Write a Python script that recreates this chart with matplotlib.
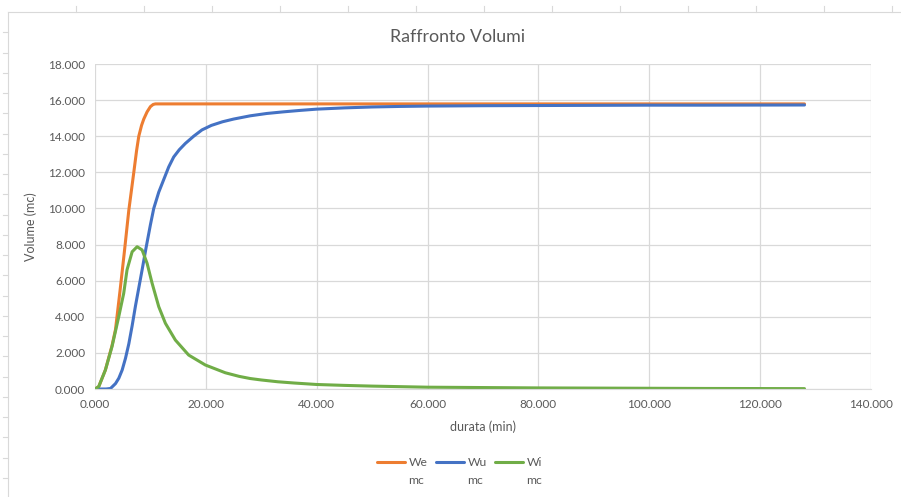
import matplotlib
matplotlib.use("Agg")
import matplotlib.pyplot as plt
from matplotlib.lines import Line2D
from matplotlib.ticker import FuncFormatter, MultipleLocator

plt.rcParams['font.family'] = ['Lato', 'DejaVu Sans']

# ---- data (durata in min, volumes in mc) ----
we_x = [0, 0.67, 1.87, 3.07, 3.7, 4.5, 5.3, 6.1, 7.0, 7.5, 7.9, 8.4, 8.8, 9.4,
        10.0, 10.5, 10.9, 128]
we_y = [0, 0.13, 1.05, 2.4, 3.3, 5.4, 7.6, 9.9, 12.0, 13.2, 14.0, 14.6, 14.95,
        15.35, 15.64, 15.76, 15.79, 15.79]

wu_x = [0, 2.0, 2.8, 3.7, 4.3, 4.9, 5.5, 6.1, 6.7, 7.3, 7.9, 8.5, 9.2, 10.0, 10.6,
        11.5, 12.4, 13.3, 14.2, 15.2, 16.3, 17.8, 19.3, 21, 23, 25, 28, 31, 34,
        37, 40, 45, 50, 55, 60, 70, 80, 90, 100, 110, 128]
wu_y = [0, 0, 0.03, 0.3, 0.6, 1.05, 1.7, 2.5, 3.5, 4.6, 5.6, 6.6, 7.8, 9.1, 10.0,
        10.9, 11.6, 12.3, 12.85, 13.25, 13.6, 14.0, 14.35, 14.6, 14.8, 14.95,
        15.13, 15.26, 15.35, 15.43, 15.5, 15.57, 15.62, 15.65, 15.67, 15.69,
        15.7, 15.71, 15.72, 15.72, 15.73]

wi_x = [0, 0.67, 1.87, 3.07, 4.28, 5.18, 5.78, 6.7, 7.6, 8.5, 9.4, 10.3, 11.5,
        12.7, 14.5, 16.9, 19.9, 23.5, 26, 28, 30, 33, 36, 40, 45, 50, 55, 60,
        70, 80, 90, 100, 110, 120, 128]
wi_y = [0, 0.13, 1.05, 2.35, 4.0, 5.3, 6.6, 7.6, 7.88, 7.7, 6.96, 5.86, 4.56,
        3.64, 2.71, 1.88, 1.33, 0.9, 0.7, 0.58, 0.5, 0.4, 0.33, 0.25, 0.2, 0.16,
        0.13, 0.1, 0.08, 0.06, 0.05, 0.04, 0.03, 0.025, 0.02]

names = ["We", "Wu", "Wi"]
units = ["mc", "mc", "mc"]
colors = ["#ED7D31", "#4472C4", "#70AD47"]

title = "Raffronto Volumi"
xlabel = "durata (min)"
ylabel = "Volume (mc)"

txt_c = "#595959"
W, H = 901, 497
fig = plt.figure(figsize=(W / 100, H / 100), dpi=100)
fig.patch.set_facecolor("white")

ax = fig.add_axes([95 / W, 1 - 389 / H, (871 - 95) / W, (389 - 64) / H])
ax.set_facecolor("white")

series = [(we_x, we_y), (wu_x, wu_y), (wi_x, wi_y)]
handles = []
for (sx, sy), lab, c in zip(series, names, colors):
    h, = ax.plot(sx, sy, color=c, lw=2.2, label=lab, solid_joinstyle="round",
                 solid_capstyle="round")
    handles.append(h)

ax.set_xlim(0, 140)
ax.set_ylim(0, 18)
ax.xaxis.set_major_locator(MultipleLocator(20))
ax.yaxis.set_major_locator(MultipleLocator(2))
fmt = FuncFormatter(lambda v, p: f"{v:.3f}")
ax.xaxis.set_major_formatter(fmt)
ax.yaxis.set_major_formatter(fmt)

grid_c = "#d9d9d9"
ax.grid(True, color=grid_c, lw=0.9)
ax.set_axisbelow(True)
for s in ["top", "right", "left"]:
    ax.spines[s].set_visible(False)
ax.spines["bottom"].set_color(grid_c)
ax.tick_params(length=0, colors=txt_c, labelsize=8.5, pad=7)

fig.text(458 / W, 1 - 37 / H, title, fontsize=12.8, color=txt_c,
         ha="center", va="center")
ax.set_xlabel(xlabel, fontsize=9, color=txt_c, labelpad=8)
ax.set_ylabel(ylabel, fontsize=9, color=txt_c, labelpad=8)

# legend: one entry per column, name on first line, unit on second line
leg_x = [377, 436, 495]
legs = []
for h, name, lx in zip(handles, names, leg_x):
    lg = ax.legend([h], [name], loc="center left",
                   bbox_to_anchor=(lx / W, 1 - 463 / H),
                   bbox_transform=fig.transFigure,
                   frameon=False, fontsize=8.7, handlelength=2.3,
                   handletextpad=0.3, labelcolor=txt_c,
                   borderpad=0, borderaxespad=0)
    legs.append(lg)
ax.legend_ = None
for lg in legs:
    ax.add_artist(lg)
fig.canvas.draw()
r = fig.canvas.get_renderer()
for lg, u in zip(legs, units):
    t = lg.get_texts()[0]
    bb = t.get_window_extent(r)
    fig.text(bb.x0 / W, (bb.y0 - 17) / H, u, fontsize=8.7, color=txt_c,
             ha="left", va="bottom")

# decorative spreadsheet frame
frame_c = "#d9d9d9"
def px_line(x0, y0, x1, y1):
    fig.add_artist(Line2D([x0 / W, x1 / W], [1 - y0 / H, 1 - y1 / H],
                          color=frame_c, lw=0.8, transform=fig.transFigure))

px_line(8, 12, W, 12)
px_line(8, 12, 8, H)
x = 76
while x < W:
    px_line(x, 6, x, 12)
    x += 68
y = 32.3
while y < H:
    px_line(3, y, 8, y)
    y += 20.25

fig.savefig("out.png", dpi=100)
